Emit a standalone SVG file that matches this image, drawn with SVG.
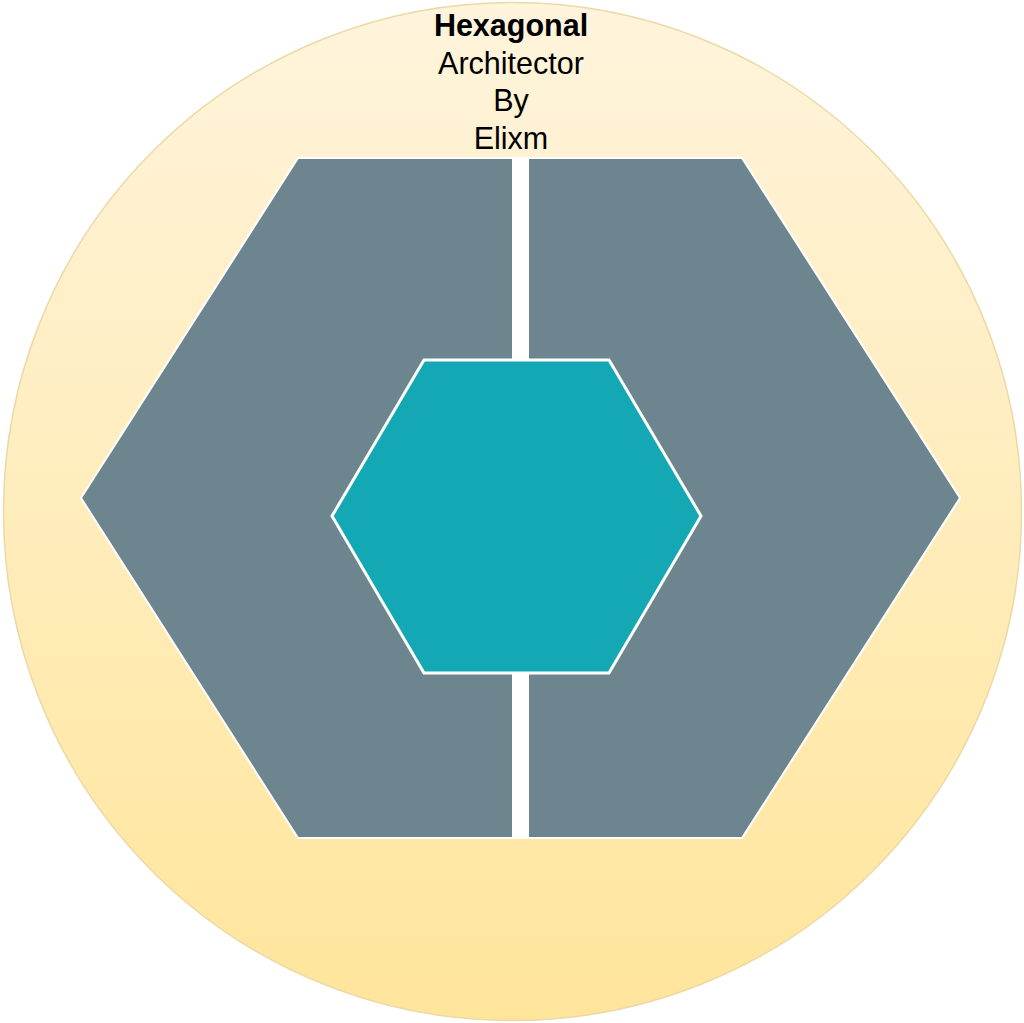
<svg xmlns="http://www.w3.org/2000/svg" width="1024" height="1023" viewBox="0 0 1024 1023">
  <defs>
    <linearGradient id="bg" x1="0" y1="0" x2="0" y2="1">
      <stop offset="0" stop-color="#FFF4DC"/>
      <stop offset="1" stop-color="#FFE59B"/>
    </linearGradient>
  </defs>
  <style>
    .half { fill: #6D858E; stroke: #FFFFFF; stroke-width: 2; }
    .core { fill: #14A8B5; stroke: #FFFFFF; stroke-width: 3; }
    .t { font-family: "Liberation Sans", Arial, sans-serif; font-size: 30.5px; fill: #000; text-anchor: middle; }
  </style>
  <rect width="1024" height="1023" fill="#FFFFFF"/>
  <g id="outer">
    <circle cx="512.5" cy="511.5" r="509" fill="url(#bg)" stroke="#EBD9A6" stroke-width="1.5"/>
    <text class="t" x="511" y="36" font-weight="bold">Hexagonal</text>
    <text class="t" x="511" y="74">Architector</text>
    <text class="t" x="511" y="111">By</text>
    <text class="t" x="511" y="149">Elixm</text>
  </g>
  <g id="divider">
    <rect x="512" y="157" width="17" height="682" fill="#FFFFFF"/>
  </g>
  <g id="left-half">
    <polygon class="half" points="298,158 513,158 513,838 298,838 81,498"/>
  </g>
  <g id="right-half">
    <polygon class="half" points="528,158 742,158 960,498 742,838 528,838"/>
  </g>
  <g id="core">
    <polygon class="core" points="424,360 609,360 701,516 609,673 424,673 332,516"/>
  </g>
  <g id="connectors"/>
</svg>
